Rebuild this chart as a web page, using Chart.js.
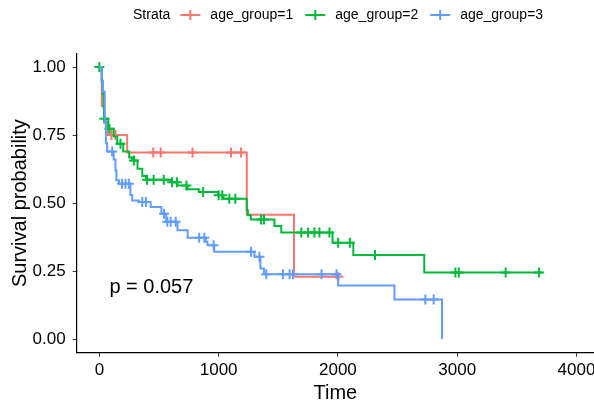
<!DOCTYPE html>
<html>
<head>
<meta charset="utf-8">
<script src="https://cdn.jsdelivr.net/npm/chart.js@4.4.1/dist/chart.umd.min.js"></script>
<style>
  html, body { margin: 0; padding: 0; background: #fff; }
  #wrap { width: 594px; height: 403px; }
</style>
</head>
<body>
<div id="wrap"><canvas id="kmChart" width="594" height="403"></canvas></div>
<script>
// 데이터
const strata = ['age_group=1', 'age_group=2', 'age_group=3'];
const legendTitle = 'Strata';
const pValueText = 'p = 0.057';

// age_group=1
const timeG1 = [0, 20, 40, 70, 233, 1236, 1632, 2003];
const survG1 = [1.0, 0.857, 0.80, 0.75, 0.686, 0.457, 0.229, 0.229];
const censorG1 = [101, 135, 452, 514, 781, 1104, 1188, 2003];

// age_group=2
const timeG2 = [0, 20, 28, 35, 40, 75, 120, 150, 200, 250, 275, 320, 360, 390, 600, 655, 740, 834, 995, 1040, 1236, 1245, 1270, 1468, 1525, 1955, 2129, 2724, 3715];
const survG2 = [1.0, 0.95, 0.90, 0.85, 0.81, 0.773, 0.745, 0.718, 0.69, 0.668, 0.657, 0.626, 0.60, 0.586, 0.577, 0.565, 0.551, 0.541, 0.529, 0.516, 0.474, 0.455, 0.44, 0.416, 0.392, 0.354, 0.309, 0.245, 0.245];
const censorG2 = [0, 42, 84, 177, 290, 400, 455, 540, 610, 650, 730, 870, 1000, 1030, 1090, 1140, 1356, 1380, 1693, 1750, 1803, 1845, 1929, 2002, 2100, 2311, 2985, 3013, 3406, 3687];

// age_group=3
const timeG3 = [0, 20, 28, 45, 55, 65, 120, 135, 143, 165, 260, 275, 330, 430, 520, 560, 655, 740, 893, 907, 963, 1300, 1350, 1380, 2002, 2474, 2873];
const survG3 = [1.0, 0.95, 0.91, 0.80, 0.72, 0.69, 0.66, 0.62, 0.584, 0.571, 0.53, 0.51, 0.504, 0.486, 0.461, 0.431, 0.40, 0.373, 0.358, 0.345, 0.321, 0.303, 0.26, 0.238, 0.197, 0.146, 0.0];
const censorG3 = [107, 190, 219, 247, 360, 390, 542, 570, 598, 640, 837, 880, 958, 1272, 1342, 1399, 1539, 1595, 1623, 1862, 1988, 2733, 2803];

const xTicks = [0, 1000, 2000, 3000, 4000];
const yTicks = [0, 0.25, 0.5, 0.75, 1.0];

const colors = ['#F8766D', '#00BA38', '#619CFF'];
const FONT = '"Liberation Sans", Arial, sans-serif';

const $ = (id) => document.getElementById(id);

// 계단 함수에서 해당 시점의 생존확률
function survAt(times, surv, t) {
    let s = surv[0];
    for (let i = 0; i < times.length; i++) {
        if (times[i] <= t) s = surv[i];
    }
    return s;
}

function curveDataset(label, times, surv, color, order) {
    return {
        type: 'line',
        label: label,
        data: times.map((t, i) => ({ x: t, y: surv[i] })),
        borderColor: color,
        borderWidth: 2,
        stepped: true,
        pointRadius: 0,
        fill: false,
        order: order
    };
}

function censorDataset(label, censors, times, surv, color, order) {
    return {
        type: 'scatter',
        label: label + ' censor',
        data: censors.map(t => ({ x: t, y: survAt(times, surv, t) })),
        borderColor: color,
        backgroundColor: color,
        pointStyle: 'cross',
        pointRadius: 5,
        borderWidth: 2,
        showLine: false,
        order: order
    };
}

// 범례 (Strata + 선과 십자 기호)
const strataLegend = {
    id: 'strataLegend',
    afterDraw(chart) {
        const ctx = chart.ctx;
        ctx.save();
        ctx.font = '14px ' + FONT;
        ctx.textBaseline = 'middle';
        ctx.fillStyle = '#000';
        const y = 15;
        let x = 133;
        ctx.fillText(legendTitle, x, y);
        x += ctx.measureText(legendTitle).width + 10;
        strata.forEach((name, i) => {
            ctx.strokeStyle = colors[i];
            ctx.lineWidth = 2;
            ctx.beginPath();
            ctx.moveTo(x, y); ctx.lineTo(x + 20, y);
            ctx.moveTo(x + 10, y - 5); ctx.lineTo(x + 10, y + 5);
            ctx.stroke();
            x += 30;
            ctx.fillStyle = '#000';
            ctx.fillText(name, x, y);
            x += ctx.measureText(name).width + 12;
        });
        ctx.restore();
    }
};

// p-value 텍스트
const pValueLabel = {
    id: 'pValueLabel',
    afterDatasetsDraw(chart) {
        const ctx = chart.ctx;
        const xs = chart.scales.x, ys = chart.scales.y;
        ctx.save();
        ctx.font = '20px ' + FONT;
        ctx.fillStyle = '#000';
        ctx.textBaseline = 'alphabetic';
        ctx.fillText(pValueText, xs.getPixelForValue(84), ys.getPixelForValue(0.17));
        ctx.restore();
    }
};

const datasets = [
    curveDataset(strata[0], timeG1, survG1, colors[0], 6),
    censorDataset(strata[0], censorG1, timeG1, survG1, colors[0], 5),
    curveDataset(strata[1], timeG2, survG2, colors[1], 4),
    censorDataset(strata[1], censorG2, timeG2, survG2, colors[1], 3),
    curveDataset(strata[2], timeG3, survG3, colors[2], 2),
    censorDataset(strata[2], censorG3, timeG3, survG3, colors[2], 1)
];

new Chart($('kmChart').getContext('2d'), {
    data: { datasets: datasets },
    plugins: [strataLegend, pValueLabel],
    options: {
        responsive: false,
        animation: false,
        layout: { autoPadding: false, padding: { top: 53.5, right: 0, left: 0, bottom: 0 } },
        plugins: { legend: { display: false }, tooltip: { enabled: false } },
        scales: {
            x: {
                type: 'linear',
                min: -190,
                max: 4147,
                afterBuildTicks: (scale) => { scale.ticks = xTicks.map(v => ({ value: v })); },
                afterFit: (scale) => {
                    scale.height = 50.3;
                    scale.paddingLeft = 0;
                    scale.paddingRight = 0;
                },
                ticks: { color: '#000', font: { family: FONT, size: 17 }, padding: 3, maxRotation: 0, callback: (v) => String(v) },
                grid: { drawOnChartArea: false, drawTicks: true, tickLength: 4, color: '#333' },
                border: { display: true, color: '#000', width: 1.2 },
                title: { display: true, text: 'Time', color: '#000', font: { family: FONT, size: 20, lineHeight: 1 }, padding: { top: 0, bottom: 0 } }
            },
            y: {
                type: 'linear',
                min: -0.05,
                max: 1.05,
                afterBuildTicks: (scale) => { scale.ticks = yTicks.map(v => ({ value: v })); },
                afterFit: (scale) => {
                    scale.width = 76.7;
                    scale.paddingTop = 0;
                    scale.paddingBottom = 0;
                },
                ticks: { color: '#000', font: { family: FONT, size: 17 }, padding: 7, callback: (v) => Number(v).toFixed(2) },
                grid: { drawOnChartArea: false, drawTicks: true, tickLength: 4, color: '#333' },
                border: { display: true, color: '#000', width: 1.2 },
                title: { display: true, text: 'Survival probability', color: '#000', font: { family: FONT, size: 20, lineHeight: 1.2 }, padding: { top: 8, bottom: 0 } }
            }
        }
    }
});
</script>
</body>
</html>
